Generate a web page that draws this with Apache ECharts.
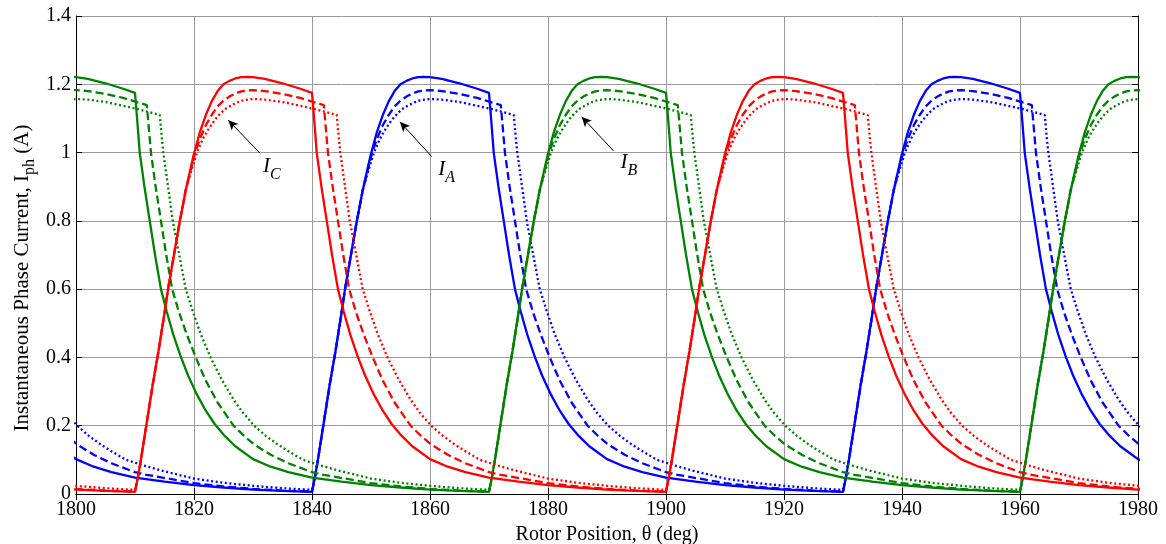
<!DOCTYPE html>
<html>
<head>
<meta charset="utf-8">
<script src="https://cdn.jsdelivr.net/npm/echarts@6/dist/echarts.min.js"></script>
<style>
  html, body { margin: 0; padding: 0; background: #fff; }
  #main { width: 1166px; height: 544px; }
</style>
</head>
<body>
<div id="main"></div>
<script>
// rotor angles (deg) where each phase switches on
var phaseAOn = [1750, 1840, 1930];
var phaseBOn = [1780, 1870, 1960];
var phaseCOn = [1720, 1810, 1900];

// one 90 deg stroke: angle after switch-on, current (A)
var solidAngle   = [0, 0.5, 1, 2, 3, 4, 5, 5.6, 6.5, 7.5, 8.6, 9.9, 11, 12, 13, 14, 15, 16, 17, 18, 19, 20, 22, 25, 28, 30,
                    30.4, 30.8, 31.6, 32.5, 33.4, 34.4, 35.4, 36.5, 37.8, 39, 40.5, 42, 43.5, 45, 47, 50, 53, 56, 60,
                    65, 70, 75, 80, 85, 90];
var solidCurrent = [0.006, 0.05, 0.1, 0.21, 0.32, 0.42, 0.53, 0.6, 0.69, 0.79, 0.89, 0.99, 1.06, 1.11, 1.15, 1.18, 1.2, 1.21, 1.217, 1.221, 1.222, 1.221, 1.216, 1.203, 1.187, 1.175,
                    1.09, 1.0, 0.9, 0.8, 0.7, 0.6, 0.533, 0.466, 0.4, 0.347, 0.291, 0.244, 0.205, 0.174, 0.14, 0.102, 0.08, 0.064, 0.048,
                    0.036, 0.026, 0.019, 0.013, 0.009, 0.006];

var dashedAngle   = [0, 0.5, 1, 2, 3, 4, 5, 5.6, 6.5, 7.5, 8.6, 9.3, 10.2, 11, 12, 13, 14, 15, 16, 17, 18, 19, 20, 22, 25, 28, 32,
                     32.35, 32.7, 33.5, 34.4, 35.3, 36.3, 37.5, 38.8, 40.3, 42, 44, 46.7, 48.5, 50.2, 53, 56, 60, 62,
                     66, 70, 75, 80, 85, 90];
var dashedCurrent = [0.007, 0.05, 0.1, 0.21, 0.32, 0.42, 0.53, 0.6, 0.69, 0.79, 0.89, 0.94, 1.0, 1.04, 1.08, 1.11, 1.135, 1.152, 1.164, 1.173, 1.179, 1.182, 1.183, 1.18, 1.172, 1.16, 1.139,
                     1.07, 1.0, 0.9, 0.8, 0.7, 0.6, 0.53, 0.466, 0.4, 0.332, 0.268, 0.2, 0.17, 0.145, 0.115, 0.09, 0.064, 0.056,
                     0.044, 0.032, 0.022, 0.015, 0.01, 0.007];

var dottedAngle   = [0, 0.5, 1, 2, 3, 4, 5, 5.6, 6.5, 7.5, 8.6, 9.6, 10.5, 11.5, 12.5, 13.5, 14.5, 15.5, 16.5, 17.5, 18.5, 20, 22, 25, 28, 31, 34.2,
                     34.5, 34.8, 35.6, 36.4, 37.5, 38.6, 39.8, 41.1, 42.8, 44.7, 46.7, 48.2, 50.2, 52.2, 54.2, 56.5, 58.5, 61.2,
                     64.2, 70, 75, 80, 85, 90];
var dottedCurrent = [0.012, 0.05, 0.1, 0.21, 0.32, 0.42, 0.53, 0.6, 0.69, 0.79, 0.89, 0.95, 1.0, 1.04, 1.07, 1.095, 1.115, 1.13, 1.14, 1.148, 1.154, 1.157, 1.155, 1.148, 1.137, 1.125, 1.11,
                     1.05, 1.0, 0.9, 0.8, 0.7, 0.6, 0.535, 0.47, 0.4, 0.335, 0.277, 0.24, 0.2, 0.17, 0.145, 0.12, 0.1, 0.085,
                     0.07, 0.045, 0.033, 0.024, 0.017, 0.012];

var xTickLabels = ['1800', '1820', '1840', '1860', '1880', '1900', '1920', '1940', '1960', '1980'];
var yTickLabels = ['0', '0.2', '0.4', '0.6', '0.8', '1', '1.2', '1.4'];

// annotation arrows [tail, tip] and label anchors (deg, A)
var labelC = { text: 'C', tail: [1831.2, 0.998], tip: [1825.8, 1.095], at: [1833.2, 0.95] };
var labelA = { text: 'A', tail: [1860.3, 0.988], tip: [1854.9, 1.090], at: [1862.8, 0.943] };
var labelB = { text: 'B', tail: [1891.1, 1.005], tip: [1885.7, 1.105], at: [1893.7, 0.963] };

var FONT = '"Liberation Serif", "Times New Roman", serif';

function strokes(onList, angle, current) {
  var pts = [];
  for (var k = 0; k < onList.length; k++) {
    var last = (k === onList.length - 1) ? angle.length : angle.length - 1;
    for (var i = 0; i < last; i++) {
      pts.push([onList[k] + angle[i], current[i]]);
    }
  }
  return pts;
}

function makeSeries(name, color, onList, style, note) {
  var src = style === 'solid' ? [solidAngle, solidCurrent]
          : style === 'dashed' ? [dashedAngle, dashedCurrent]
          : [dottedAngle, dottedCurrent];
  var s = {
    name: name,
    type: 'line',
    data: strokes(onList, src[0], src[1]),
    showSymbol: false,
    clip: true,
    lineStyle: {
      color: color,
      width: 2.3,
      type: style === 'solid' ? 'solid' : (style === 'dashed' ? [8, 4] : [2, 2.6])
    },
    silent: true
  };
  if (note) {
    s.markLine = {
      silent: true,
      symbol: ['none', 'arrow'],
      symbolSize: [7, 10],
      lineStyle: { color: '#000', width: 1, type: 'solid' },
      label: { show: false },
      data: [[{ coord: note.tail }, { coord: note.tip }]]
    };
    s.markPoint = {
      silent: true,
      symbol: 'circle',
      symbolSize: 1,
      itemStyle: { color: 'rgba(0,0,0,0)' },
      label: {
        show: true,
        position: 'inside',
        formatter: '{i|I}{s|' + note.text + '}',
        rich: {
          i: { fontFamily: FONT, fontStyle: 'italic', fontSize: 21, color: '#000', verticalAlign: 'top' },
          s: { fontFamily: FONT, fontStyle: 'italic', fontSize: 16, color: '#000', verticalAlign: 'top', padding: [11, 0, 0, 0] }
        }
      },
      data: [{ coord: note.at }]
    };
  }
  return s;
}

var myChart = echarts.init(document.getElementById('main'));

var axisText = { fontFamily: FONT, fontSize: 20, color: '#000' };

myChart.setOption({
  animation: false,
  backgroundColor: '#fff',
  grid: { left: 76, right: 28, top: 16, bottom: 50, containLabel: false, outerBoundsMode: 'none' },
  xAxis: [
    {
      type: 'value', min: 1800, max: 1980, interval: 20,
      name: 'Rotor Position, θ (deg)', nameLocation: 'middle', nameGap: 31, nameMoveOverlap: false,
      nameTextStyle: axisText,
      axisLine: { lineStyle: { color: '#000', width: 1 } },
      axisTick: { inside: true, length: 6, lineStyle: { color: '#000' } },
      axisLabel: Object.assign({ margin: 6, formatter: function (v) { return xTickLabels[Math.round((v - 1800) / 20)]; } }, axisText),
      splitLine: { show: true, lineStyle: { color: '#9a9a9a', width: 1 } }
    },
    {
      type: 'value', min: 1800, max: 1980, interval: 20, position: 'top',
      axisLine: { lineStyle: { color: '#000', width: 1 } },
      axisTick: { inside: true, length: 6, lineStyle: { color: '#000' } },
      axisLabel: { show: false }, splitLine: { show: false }
    }
  ],
  yAxis: [
    {
      type: 'value', min: 0, max: 1.4, interval: 0.2,
      name: '{a|Instantaneous Phase Current, I}{s|ph}{a| (A)}',
      nameLocation: 'middle', nameGap: 38, nameMoveOverlap: false,
      nameTextStyle: {
        padding: [0, 46, 0, 0],
        rich: {
          a: { fontFamily: FONT, fontSize: 21, color: '#000', verticalAlign: 'top' },
          s: { fontFamily: FONT, fontSize: 16, color: '#000', verticalAlign: 'top', padding: [10, 0, 0, 0] }
        }
      },
      axisLine: { show: true, lineStyle: { color: '#000', width: 1 } },
      axisTick: { show: true, inside: true, length: 6, lineStyle: { color: '#000' } },
      axisLabel: Object.assign({ margin: 5, formatter: function (v) { return yTickLabels[Math.round(v / 0.2)]; } }, axisText),
      splitLine: { show: true, lineStyle: { color: '#9a9a9a', width: 1 } }
    },
    {
      type: 'value', min: 0, max: 1.4, interval: 0.2, position: 'right',
      axisLine: { show: true, lineStyle: { color: '#000', width: 1 } },
      axisTick: { show: true, inside: true, length: 6, lineStyle: { color: '#000' } },
      axisLabel: { show: false }, splitLine: { show: false }
    }
  ],
  series: [
    makeSeries('IA', '#0000ff', phaseAOn, 'solid', labelA),
    makeSeries('IA dashed', '#0000ff', phaseAOn, 'dashed'),
    makeSeries('IA dotted', '#0000ff', phaseAOn, 'dotted'),
    makeSeries('IB', '#008000', phaseBOn, 'solid', labelB),
    makeSeries('IB dashed', '#008000', phaseBOn, 'dashed'),
    makeSeries('IB dotted', '#008000', phaseBOn, 'dotted'),
    makeSeries('IC', '#ff0000', phaseCOn, 'solid', labelC),
    makeSeries('IC dashed', '#ff0000', phaseCOn, 'dashed'),
    makeSeries('IC dotted', '#ff0000', phaseCOn, 'dotted')
  ]
});
</script>
</body>
</html>
